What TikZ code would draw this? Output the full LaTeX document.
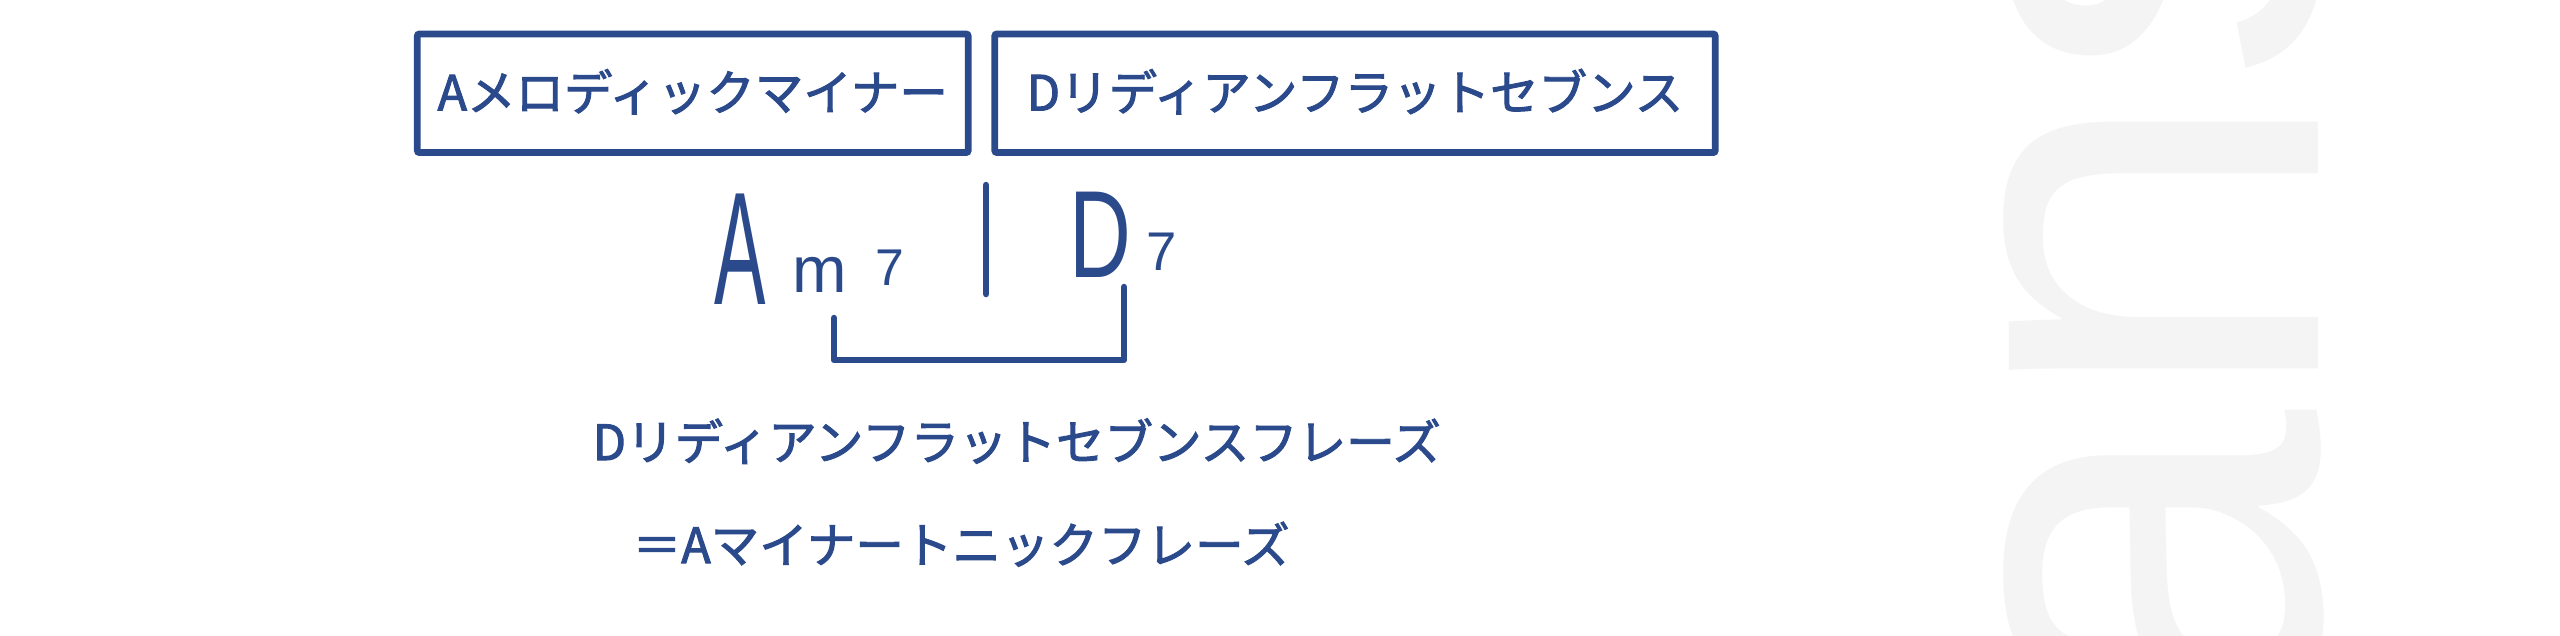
\documentclass[tikz,border=0pt]{standalone}
\usepackage{fontspec}
\usepackage{graphicx}
\setmainfont{Liberation Sans}
\newfontfamily\jpfont{Noto Sans CJK JP}[FakeBold=2]
\definecolor{inkblue}{RGB}{43,74,140}
\definecolor{ghostgrey}{RGB}{244,244,244}
\tikzset{
	labelbox/.style={draw=inkblue, line width=1.93pt, rounded corners=0.6pt, inner sep=0pt,
		minimum height=1.185cm, text height=0.98em, text depth=0pt, text=inkblue,
		font=\jpfont\fontsize{13.8pt}{16pt}\selectfont},
	phrase/.style={anchor=base west, inner sep=0pt, text=inkblue,
		font=\jpfont\fontsize{13.8pt}{16pt}\selectfont},
	chord/.style={inner sep=0pt, text=inkblue},
	pen/.style={draw=inkblue, line width=1.85pt, line cap=round, line join=round},
}

\begin{document}
\begin{tikzpicture}[x=0.01cm, y=-0.01cm]
	\useasboundingbox (0,0) rectangle (2560,635);
	\clip (0,0) rectangle (2560,635);
	% word in the background
	\node[rotate=90, anchor=base west, inner sep=0pt, text=ghostgrey,
		font=\fontsize{166.4pt}{166pt}\selectfont] (bgword) at (2318,736) {ans};
	% scales
	\node[labelbox, minimum width=5.505cm] (melmin) at (692.75,93.25) {Aメロディックマイナー};
	\node[labelbox, minimum width=7.2cm] (lydflat) at (1355,93.25) {Dリディアンフラットセブンス};
	% chords
	\node[chord, font=\fontsize{45.7pt}{46pt}\selectfont] (chA) at (740,249) {\scalebox{0.48}[1]{A}};
	\node[chord, font=\fontsize{18.6pt}{19pt}\selectfont] (chm) at (820,275) {m};
	\node[chord, font=\fontsize{14.7pt}{15pt}\selectfont] (chAsev) at (890,268) {7};
	\node[chord, font=\fontsize{35.3pt}{36pt}\selectfont] (chD) at (1100,235) {\scalebox{0.69}[1]{D}};
	\node[chord, font=\fontsize{15.5pt}{16pt}\selectfont] (chDsev) at (1162,252) {7};
	\coordinate (barT) at (986,185);
	\coordinate (barB) at (986,294);
	\draw[pen] (barT) -- (barB);
	\coordinate (brL) at (834,318);
	\coordinate (brR) at (1124,287);
	\draw[pen] (brL) -- ++(0,42) -| (brR);
	% phrases
	\node[phrase] (phlyd) at (592,460) {Dリディアンフラットセブンスフレーズ};
	\node[phrase] (phmin) at (632,563) {＝Aマイナートニックフレーズ};
\end{tikzpicture}
\end{document}
